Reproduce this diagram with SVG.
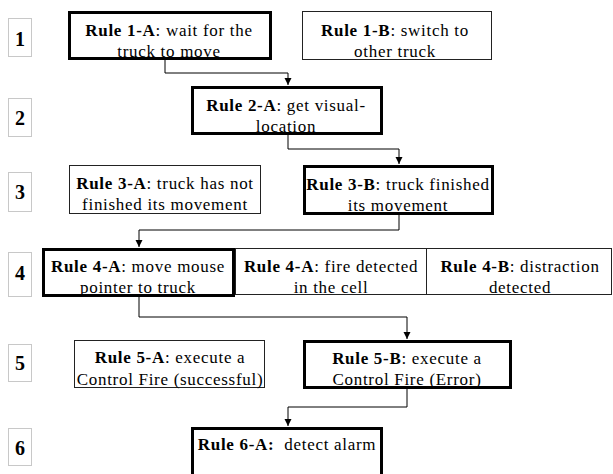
<svg xmlns="http://www.w3.org/2000/svg" width="613" height="474" viewBox="0 0 613 474">
<style>
text{font-family:"Liberation Serif","Times New Roman",serif;font-size:17px;letter-spacing:0.7px;fill:#000}
.c{text-anchor:middle}
.b{font-weight:bold}
.num{font-family:"Liberation Serif",serif;font-size:20px;font-weight:bold;text-anchor:middle;letter-spacing:0}
.nb{fill:#fff;stroke:#c8c8c8;stroke-width:1}
.thick{fill:#fff;stroke:#000;stroke-width:3}
.thin{fill:#fff;stroke:#222;stroke-width:1}
.conn{fill:none;stroke:#000;stroke-width:1}
</style>
<defs>
<marker id="ah" markerWidth="8" markerHeight="8" refX="7" refY="4" orient="auto" markerUnits="userSpaceOnUse">
<path d="M0,0.5 L7,4 L0,7.5 Z" fill="#000"/>
</marker>
</defs>
<rect width="613" height="474" fill="#fff"/>
<g id="numbers">
<g id="n1"><rect class="nb" x="8.5" y="18.5" width="23" height="38"/><text class="num" x="20" y="46">1</text></g>
<g id="n2"><rect class="nb" x="8.5" y="98.5" width="23" height="38"/><text class="num" x="20" y="125">2</text></g>
<g id="n3"><rect class="nb" x="8.5" y="172.5" width="23" height="39"/><text class="num" x="20" y="199">3</text></g>
<g id="n4"><rect class="nb" x="8.5" y="252.5" width="23" height="44"/><text class="num" x="20" y="280">4</text></g>
<g id="n5"><rect class="nb" x="8.5" y="344.5" width="23" height="37"/><text class="num" x="20" y="370">5</text></g>
<g id="n6"><rect class="nb" x="8.5" y="428.5" width="23" height="37"/><text class="num" x="20" y="455">6</text></g>
</g>
<g id="connectors">
<polyline class="conn" points="165,60 165,73 288,73 288,85" marker-end="url(#ah)"/>
<polyline class="conn" points="288,135 288,149 399,149 399,164" marker-end="url(#ah)"/>
<polyline class="conn" points="399,215 399,230 139,230 139,247" marker-end="url(#ah)"/>
<polyline class="conn" points="139,297 139,317 407,317 407,339" marker-end="url(#ah)"/>
<polyline class="conn" points="407,388 407,407 288,407 288,426" marker-end="url(#ah)"/>
</g>
<g id="r1a"><rect class="thick" x="69.5" y="12.5" width="201" height="46"/>
<text class="c" x="169" y="36"><tspan class="b">Rule 1-A</tspan>: wait for the</text>
<text class="c" x="169" y="57">truck to move</text></g>
<g id="r1b"><rect class="thin" x="302.5" y="11.5" width="189" height="48"/>
<text class="c" x="395" y="36"><tspan class="b">Rule 1-B</tspan>: switch to</text>
<text class="c" x="395" y="57">other truck</text></g>
<g id="r2a"><rect class="thick" x="192.5" y="87.5" width="189" height="46"/>
<text class="c" x="286" y="111"><tspan class="b">Rule 2-A</tspan>: get visual-</text>
<text class="c" x="286" y="132">location</text></g>
<g id="r3a"><rect class="thin" x="69.5" y="165.5" width="191" height="48"/>
<text class="c" x="165" y="189"><tspan class="b">Rule 3-A</tspan>: truck has not</text>
<text class="c" x="165" y="210">finished its movement</text></g>
<g id="r3b"><rect class="thick" x="304.5" y="166.5" width="188" height="47"/>
<text class="c" x="398" y="190"><tspan class="b">Rule 3-B</tspan>: truck finished</text>
<text class="c" x="398" y="211">its movement</text></g>
<g id="r4"><rect class="thin" x="235.5" y="248.5" width="376" height="46"/>
<line x1="426.5" y1="248.5" x2="426.5" y2="294.5" stroke="#222" stroke-width="1"/></g>
<g id="r4a2">
<text class="c" x="331" y="272"><tspan class="b">Rule 4-A</tspan>: fire detected</text>
<text class="c" x="331" y="293">in the cell</text></g>
<g id="r4b">
<text class="c" x="520" y="272"><tspan class="b">Rule 4-B</tspan>: distraction</text>
<text class="c" x="520" y="293">detected</text></g>
<g id="r4a"><rect class="thick" x="43.5" y="249.5" width="190" height="46"/>
<text class="c" x="138" y="272"><tspan class="b">Rule 4-A</tspan>: move mouse</text>
<text class="c" x="138" y="293">pointer to truck</text></g>
<g id="r5a"><rect class="thin" x="74.5" y="340.5" width="190" height="47"/>
<text class="c" x="170" y="363"><tspan class="b">Rule 5-A</tspan>: execute a</text>
<text class="c" x="170" y="385">Control Fire (successful)</text></g>
<g id="r5b"><rect class="thick" x="304.5" y="341.5" width="206" height="46"/>
<text class="c" x="407" y="364"><tspan class="b">Rule 5-B</tspan>: execute a</text>
<text class="c" x="407" y="385">Control Fire (Error)</text></g>
<g id="r6a"><rect class="thick" x="192.5" y="428.5" width="189" height="50"/>
<text class="c" x="287" y="450" xml:space="preserve"><tspan class="b">Rule 6-A:</tspan>  detect alarm</text></g>
</svg>
